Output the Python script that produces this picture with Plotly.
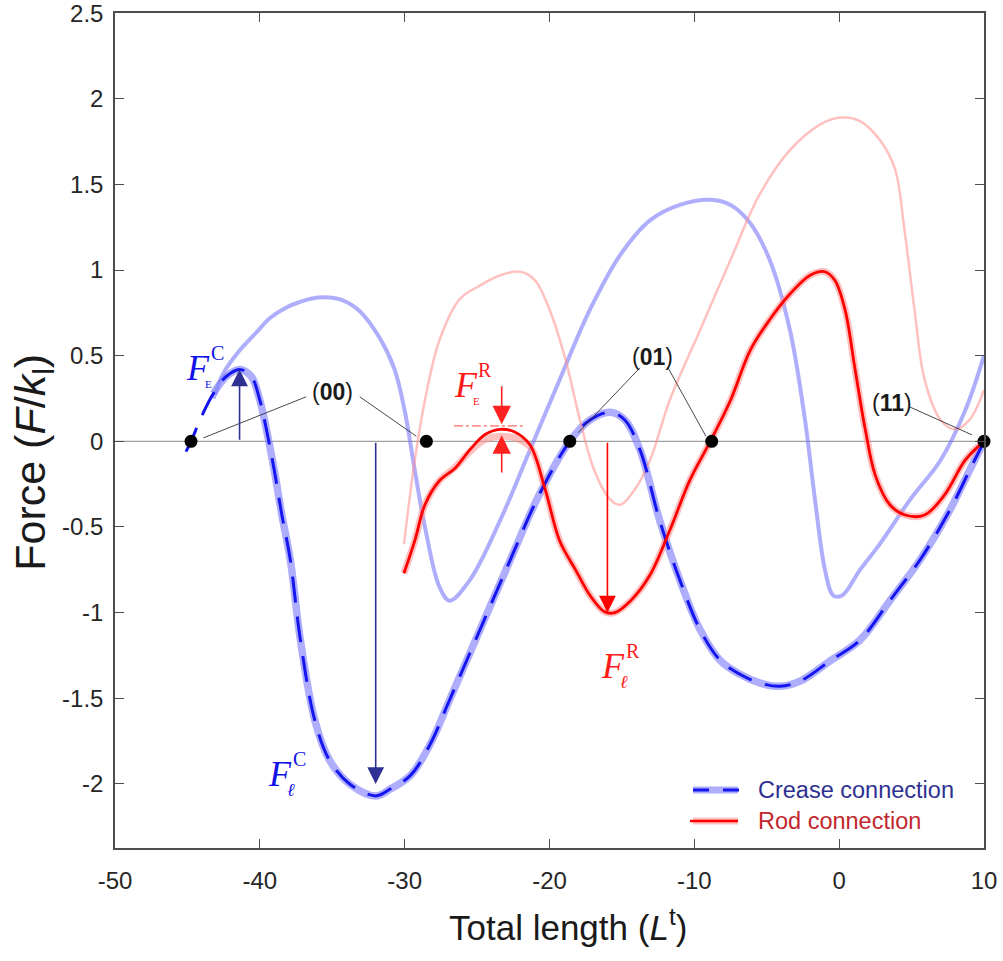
import plotly.graph_objects as go

# ---------------- data ----------------
crease_up_x = [-43.2, -42.5, -41.4, -40.3, -39.3, -38.2, -37.2, -36.0, -34.5, -33.1, -31.7, -30.7, -30.0,
               -29.3, -28.6, -27.6, -26.9, -25.5, -23.4, -21.35, -19.3, -17.2, -15.1, -13.06, -11.0, -8.9,
               -7.5, -6.2, -4.8, -3.4, -2.36, -1.67, -0.98, -0.4, 0.2, 1.44, 2.8, 4.9, 7.0, 8.7, 10.0]
crease_up_y = [0.25, 0.40, 0.53, 0.63, 0.72, 0.78, 0.815, 0.84, 0.83, 0.76, 0.60, 0.42, 0.18,
               -0.17, -0.5, -0.85, -0.93, -0.81, -0.46, -0.05, 0.36, 0.77, 1.09, 1.29, 1.38, 1.41,
               1.38, 1.28, 1.06, 0.65, 0.125, -0.34, -0.75, -0.9, -0.9, -0.75, -0.6, -0.34, -0.11, 0.18, 0.5]

crease_dn_x = [-43.2, -42.3, -41.4, -40.6, -40.0, -39.5, -39.0, -38.5, -37.9, -37.2, -36.2, -35.2, -33.8,
               -32.0, -31.0, -29.6, -28.25, -26.9, -24.8, -22.7, -20.7, -18.6, -17.2, -15.8, -14.8, -13.75,
               -12.4, -11.0, -9.6, -8.2, -6.85, -5.5, -4.1, -2.7, -0.6, 1.44, 3.5, 5.6, 7.65, 9.0, 10.0]
crease_dn_y = [0.28, 0.38, 0.42, 0.38, 0.24, 0.05, -0.17, -0.42, -0.69, -1.16, -1.63, -1.86, -2.0,
               -2.07, -2.03, -1.95, -1.77, -1.51, -1.1, -0.69, -0.31, 0.0, 0.125, 0.17, 0.125, -0.05,
               -0.46, -0.81, -1.1, -1.28, -1.36, -1.41, -1.43, -1.40, -1.28, -1.16, -0.93, -0.69, -0.40, -0.17, 0.0]

crease_sim_x = [-45.1, -44.75, -44.0] + crease_dn_x
crease_sim_y = [-0.06, 0.0, 0.15] + crease_dn_y

rod_up_x = [-30.05, -29.3, -28.6, -27.6, -26.2, -24.8, -23.4, -22.0, -21.0, -20.0, -18.9, -17.9, -16.9,
            -15.8, -15.1, -14.1, -13.06, -11.7, -9.6, -7.5, -5.5, -3.4, -1.3, 0.06, 1.44, 2.8, 3.85,
            4.5, 5.2, 5.9, 7.0, 8.0, 9.0, 10.0]
rod_up_y = [-0.6, -0.11, 0.24, 0.59, 0.83, 0.91, 0.97, 0.99, 0.94, 0.77, 0.48, 0.125, -0.17,
            -0.34, -0.37, -0.28, -0.11, 0.24, 0.65, 1.06, 1.44, 1.70, 1.85, 1.89, 1.87, 1.76, 1.59,
            1.24, 0.77, 0.36, 0.125, 0.07, 0.125, 0.3]

rod_exp_x = [-30.05, -29.3, -28.6, -27.6, -26.5, -25.5, -24.45, -23.4, -22.4, -21.35, -20.3, -19.3, -18.2,
             -17.2, -16.2, -15.5, -14.4, -13.06, -11.7, -10.3, -8.9, -7.5, -6.15, -4.8, -3.4, -2.0,
             -1.0, -0.3, 0.4, 1.1, 1.8, 2.5, 3.5, 4.55, 5.9, 7.3, 8.7, 10.0]
rod_exp_y = [-0.77, -0.58, -0.37, -0.23, -0.15, -0.06, 0.01, 0.03, 0.02, -0.03, -0.28, -0.58, -0.75,
             -0.9, -0.995, -1.0, -0.93, -0.78, -0.52, -0.225, 0.0, 0.24, 0.53, 0.71, 0.86, 0.97,
             0.99, 0.94, 0.77, 0.42, 0.07, -0.2, -0.37, -0.43, -0.43, -0.31, -0.11, 0.0]

rod_sim_x = rod_exp_x
rod_sim_y = [-0.77, -0.58, -0.37, -0.23, -0.155, -0.05, 0.04, 0.07, 0.055, -0.02, -0.28, -0.58, -0.75,
             -0.9, -0.995, -1.0, -0.93, -0.78, -0.52, -0.225, 0.0, 0.24, 0.53, 0.71, 0.86, 0.97,
             0.99, 0.94, 0.77, 0.42, 0.07, -0.2, -0.37, -0.43, -0.43, -0.31, -0.11, 0.0]

zero_x = [-44.75, -28.5, -18.6, -8.8, 10.0]
zero_y = [0, 0, 0, 0, 0]

# characteristic forces (arrow tips)
FE_C = (-41.4, 0.42)
Fl_C = (-32.0, -2.0)
FE_R = (-23.3, 0.075)
Fl_R = (-16.0, -1.0)

x_ticks = [-50, -40, -30, -20, -10, 0, 10]
y_ticks = [-2, -1.5, -1, -0.5, 0, 0.5, 1, 1.5, 2, 2.5]

# ---------------- figure ----------------
LB = 'rgba(120,120,250,0.6)'
PK = 'rgba(255,140,140,0.55)'
NAVY = '#2e3192'
fig = go.Figure()

fig.add_trace(go.Scatter(x=[-50, 10], y=[0, 0], mode='lines',
                         line=dict(color='#a0a0a0', width=1.2), showlegend=False, hoverinfo='skip'))
fig.add_trace(go.Scatter(x=crease_up_x, y=crease_up_y, mode='lines', line_shape='spline',
                         line=dict(color=LB, width=4), showlegend=False))
fig.add_trace(go.Scatter(x=crease_dn_x, y=crease_dn_y, mode='lines', line_shape='spline',
                         line=dict(color=LB, width=7.5), showlegend=False))
fig.add_trace(go.Scatter(x=rod_up_x, y=rod_up_y, mode='lines', line_shape='spline',
                         line=dict(color=PK, width=2.5), showlegend=False))
fig.add_trace(go.Scatter(x=rod_exp_x, y=rod_exp_y, mode='lines', line_shape='spline',
                         line=dict(color=PK, width=7), showlegend=False))
fig.add_trace(go.Scatter(x=crease_sim_x, y=crease_sim_y, mode='lines', line_shape='spline',
                         line=dict(color='#1515f0', width=3, dash='26px,14px'), showlegend=False))
fig.add_trace(go.Scatter(x=rod_sim_x, y=rod_sim_y, mode='lines', line_shape='spline',
                         line=dict(color='#ff0000', width=2.8), showlegend=False))
fig.add_trace(go.Scatter(x=zero_x, y=zero_y, mode='markers', cliponaxis=False,
                         marker=dict(color='black', size=13), showlegend=False))


def arrow(x0, y0, x1, y1, color, w=1.6, size=2.1):
    fig.add_annotation(x=x1, y=y1, ax=x0, ay=y0, xref='x', yref='y', axref='x', ayref='y',
                       text='', showarrow=True, arrowhead=2, arrowsize=size, arrowwidth=w,
                       arrowcolor=color, standoff=0)


arrow(FE_C[0], 0, FE_C[0], FE_C[1], NAVY)
arrow(Fl_C[0], 0, Fl_C[0], Fl_C[1], NAVY)
arrow(Fl_R[0], 0, Fl_R[0], Fl_R[1], '#ff0000')
arrow(FE_R[0], 0.33, FE_R[0], 0.1, '#ff2020', size=2.3)
arrow(FE_R[0], -0.19, FE_R[0], 0.035, '#ff2020', size=2.3)
fig.add_shape(type='line', x0=-26.6, x1=-21.7, y0=0.09, y1=0.09,
              line=dict(color='#ff4040', width=1, dash='dashdot'))


def leader(x0, y0, x1, y1):
    fig.add_shape(type='line', x0=x0, y0=y0, x1=x1, y1=y1, line=dict(color='#333333', width=0.9))


leader(-43.9, 0.02, -36.8, 0.26)
leader(-33.1, 0.26, -29.2, 0.03)
leader(-13.75, 0.43, -18.03, 0.05)
leader(-11.82, 0.43, -9.2, 0.03)
leader(4.89, 0.20, 9.17, 0.038)

LAB = dict(family='Liberation Sans, Arial', size=23, color='#1a1a1a')
fig.add_annotation(x=-34.95, y=0.29, text='(<b>00</b>)', showarrow=False, font=LAB)
fig.add_annotation(x=-12.92, y=0.49, text='(<b>01</b>)', showarrow=False, font=LAB)
fig.add_annotation(x=3.65, y=0.225, text='(<b>11</b>)', showarrow=False, font=LAB)

SER = 'Liberation Serif, Times New Roman, serif'


def flabel(xc, yc, sup, sub, color, subsize, subdx=0.75):
    fig.add_annotation(x=xc, y=yc, text='<i>F</i>', showarrow=False,
                       font=dict(family=SER, size=36, color=color))
    fig.add_annotation(x=xc + 1.35, y=yc + 0.085, text=sup, showarrow=False,
                       font=dict(family=SER, size=20, color=color))
    fig.add_annotation(x=xc + subdx, y=yc - 0.095, text=sub, showarrow=False,
                       font=dict(family=SER, size=subsize, color=color))


flabel(-44.27, 0.43, 'C', 'E', '#1010e8', 11)
flabel(-38.6, -1.94, 'C', '<i>ℓ</i>', '#1010e8', 18)
flabel(-15.6, -1.31, 'R', '<i>ℓ</i>', '#ff1a1a', 18)
flabel(-25.8, 0.33, 'R', 'E', '#ff1a1a', 11)


def px2paper_x(px):
    return (px - 115) / 869.0


def px2paper_y(py):
    return (848 - py) / 834.5


fig.add_shape(type='line', xref='paper', yref='paper', x0=px2paper_x(693), x1=px2paper_x(738),
              y0=px2paper_y(790), y1=px2paper_y(790), line=dict(color=LB, width=7))
fig.add_shape(type='line', xref='paper', yref='paper', x0=px2paper_x(693), x1=px2paper_x(740),
              y0=px2paper_y(790), y1=px2paper_y(790), line=dict(color='#1515f0', width=3, dash='16px,14px'))
fig.add_shape(type='line', xref='paper', yref='paper', x0=px2paper_x(693), x1=px2paper_x(738),
              y0=px2paper_y(821), y1=px2paper_y(821), line=dict(color=PK, width=7))
fig.add_shape(type='line', xref='paper', yref='paper', x0=px2paper_x(690), x1=px2paper_x(738),
              y0=px2paper_y(821), y1=px2paper_y(821), line=dict(color='#ff0000', width=2.5))
fig.add_annotation(xref='paper', yref='paper', x=px2paper_x(756), y=px2paper_y(790),
                   xanchor='left', yanchor='middle',
                   text='Crease connection', showarrow=False,
                   font=dict(family='Liberation Sans, Arial', size=23.5, color=NAVY))
fig.add_annotation(xref='paper', yref='paper', x=px2paper_x(756), y=px2paper_y(821),
                   xanchor='left', yanchor='middle',
                   text='Rod connection', showarrow=False,
                   font=dict(family='Liberation Sans, Arial', size=23.5, color='#c1272d'))

# axis titles
fig.add_annotation(xref='paper', yref='paper', x=px2paper_x(568), y=px2paper_y(925),
                   xanchor='center', yanchor='middle',
                   text='Total length (<i>L</i><sup>t</sup>)', showarrow=False,
                   font=dict(family='Liberation Sans, Arial', size=35, color='#1a1a1a'))
fig.add_annotation(xref='paper', yref='paper', x=px2paper_x(33), y=px2paper_y(463), textangle=-90,
                   xanchor='center', yanchor='middle',
                   text='Force (<i>F</i>/<i>k</i><sub>l</sub>)', showarrow=False,
                   font=dict(family='Liberation Sans, Arial', size=43, color='#1a1a1a'))

AX = dict(showline=True, linecolor='#4d4d4d', linewidth=1.5, mirror='ticks', ticks='inside',
          ticklen=9, tickwidth=1.2, tickcolor='#4d4d4d', showgrid=False, zeroline=False,
          automargin=False, ticklabeloverflow='allow',
          tickfont=dict(family='Liberation Sans, Arial', size=24, color='#262626'))

fig.update_layout(
    width=1003, height=961, plot_bgcolor='white', paper_bgcolor='white',
    margin=dict(l=115, r=19, t=13, b=113, autoexpand=False),
    xaxis=dict(range=[-50, 10], tickvals=x_ticks, ticktext=['%g' % v for v in x_ticks],
               ticklabelstandoff=10, **AX),
    yaxis=dict(range=[-2.374, 2.5006], tickvals=y_ticks, ticktext=['%g' % v for v in y_ticks],
               ticklabelstandoff=5, **AX),
)

fig.write_html('out.html')
